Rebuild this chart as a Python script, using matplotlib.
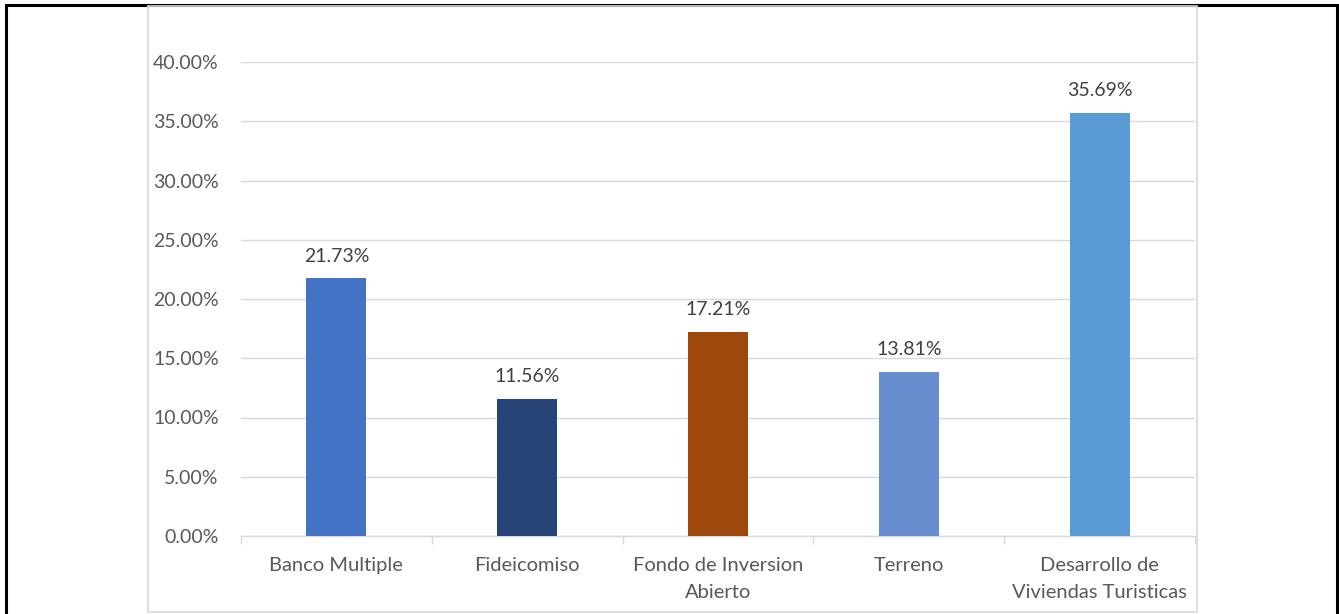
"""
Bar chart: share by investment category (percent).
"""
import matplotlib.pyplot as plt
import numpy as np
from matplotlib.patches import Rectangle
from matplotlib.ticker import FuncFormatter

categories = ['Banco Multiple', 'Fideicomiso', 'Fondo de Inversion\nAbierto',
              'Terreno', 'Desarrollo de\nViviendas Turisticas']
values = [0.2173, 0.1156, 0.1721, 0.1381, 0.3569]
bar_colors = ['#4472C4', '#264478', '#9E480E', '#698ED0', '#5B9BD5']
y_ticks = [0.0, 0.05, 0.10, 0.15, 0.20, 0.25, 0.30, 0.35, 0.40]

plt.rcParams['font.family'] = ['Lato', 'DejaVu Sans']

W, H = 1339, 614
fig = plt.figure(figsize=(W / 100, H / 100), dpi=100)

# outer black frame (bottom edge runs off the image)
fig.patches.append(Rectangle((6 / W, -0.05), (1337 - 6) / W, 1.05 - 5 / H,
                             transform=fig.transFigure, fill=False,
                             edgecolor='black', linewidth=2.2, zorder=0))
# chart area frame
fig.patches.append(Rectangle((148 / W, 1 - 612 / H), (1197 - 148) / W, (612 - 6) / H,
                             transform=fig.transFigure, fill=False,
                             edgecolor='#D9D9D9', linewidth=1.2, zorder=0))

ax = fig.add_axes([241 / W, 1 - 536 / H, (1195 - 241) / W, (536 - 62) / H])

x = np.arange(len(categories))
bars = ax.bar(x, values, width=0.315, color=bar_colors, zorder=3)

for b, v in zip(bars, values):
    ax.annotate(f'{v * 100:.2f}%', (b.get_x() + b.get_width() / 2, v),
                xytext=(0, 10), textcoords='offset points',
                ha='center', va='bottom', fontsize=14, color='#404040')

ax.set_xlim(-0.5, len(categories) - 0.5)
ax.set_ylim(0, 0.40)
ax.set_yticks(y_ticks)
ax.yaxis.set_major_formatter(FuncFormatter(lambda v, p: f'{v * 100:.2f}%'))
ax.grid(axis='y', color='#D9D9D9', linewidth=1.0, zorder=0)

ax.set_xticks(x)
ax.set_xticklabels(categories, fontsize=14.5, color='#595959', linespacing=1.75)
ax.set_xticks(np.arange(len(categories) + 1) - 0.5, minor=True)
ax.tick_params(axis='x', which='major', length=0, pad=15)
ax.tick_params(axis='x', which='minor', length=6, color='#D9D9D9', width=1)
ax.tick_params(axis='y', length=0, pad=16, labelsize=14, labelcolor='#595959')

for s in ['top', 'right', 'left']:
    ax.spines[s].set_visible(False)
ax.spines['bottom'].set_color('#D9D9D9')
ax.spines['bottom'].set_linewidth(1.0)

fig.savefig('out.png', dpi=100)
